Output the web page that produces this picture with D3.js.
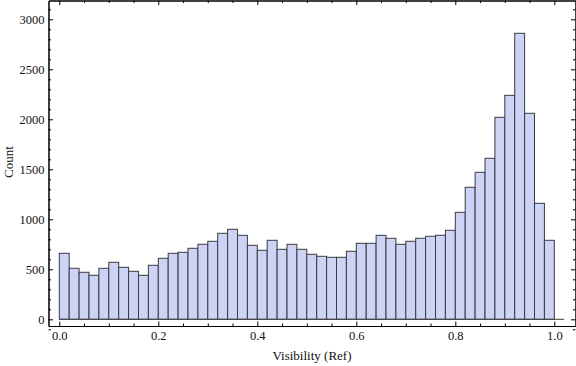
<!DOCTYPE html>
<html><head><meta charset="utf-8">
<script src="https://cdn.jsdelivr.net/npm/d3@7"></script>
<style>
body{margin:0;background:#fff}
text{font-family:"Liberation Serif","DejaVu Serif",serif}
</style>
</head><body><svg id="c" width="576" height="366"></svg>
<script>
// ---- data ----
const binStart = 0.0;
const binWidth = 0.02;
const counts = [660,510,470,440,510,570,520,480,440,540,
                610,660,670,710,750,780,860,900,840,740,
                690,790,700,750,700,650,630,620,620,680,
                760,760,840,810,750,780,810,830,840,890,
                1070,1320,1470,1610,2020,2240,2860,2060,1160,790];
const xTicks = [0.0,0.2,0.4,0.6,0.8,1.0];
const xTickLabels = ["0.0","0.2","0.4","0.6","0.8","1.0"];
const xMinor = [0.05,0.1,0.15,0.25,0.3,0.35,0.45,0.5,0.55,0.65,0.7,0.75,0.85,0.9,0.95];
const yTicks = [0,500,1000,1500,2000,2500,3000];
const yTickLabels = ["0","500","1000","1500","2000","2500","3000"];
const yMinor = [-100,100,200,300,400,600,700,800,900,1100,1200,1300,1400,1600,1700,1800,1900,
                2100,2200,2300,2400,2600,2700,2800,2900,3100];
const xLabel = "Visibility (Ref)";
const yLabel = "Count";

// ---- layout ----
const L=48.5, R=575.5, T=0.5, B=326;
const x = d3.scaleLinear().domain([-0.0218,1.0428]).range([L,R]);
const y = d3.scaleLinear().domain([-67,3188]).range([B,T]);
const svg = d3.select("#c");

const bars = counts.map((c,i)=>({x0:binStart+i*binWidth, x1:binStart+(i+1)*binWidth, c}));
svg.append("g").selectAll("rect").data(bars).join("rect")
  .attr("x",d=>x(d.x0)).attr("width",d=>x(d.x1)-x(d.x0))
  .attr("y",d=>y(d.c)).attr("height",d=>y(0)-y(d.c))
  .attr("fill","#cdd3f5").attr("stroke","#3a3a40").attr("stroke-width",1);

svg.append("line").attr("x1",x(binStart)).attr("x2",x(binStart+(counts.length+1)*binWidth))
  .attr("y1",y(0)).attr("y2",y(0)).attr("stroke","#444").attr("stroke-width",1);

function style(g){
  g.attr("font-family",null);
  g.selectAll("path.domain").attr("stroke","#000");
  g.selectAll(".tick line").attr("stroke","#000");
  g.selectAll("text").attr("font-size","12.5px").attr("fill","#111")
    .style("font-family",'"Liberation Serif","DejaVu Serif",serif');
}
const fmtX = v=>xTickLabels[xTicks.indexOf(v)];
const fmtY = v=>yTickLabels[yTicks.indexOf(v)];

// bottom
svg.append("g").attr("transform",`translate(0,${B})`)
  .call(d3.axisBottom(x).tickValues(xTicks).tickFormat(fmtX).tickSize(-4.5).tickSizeOuter(0).tickPadding(5)).call(style);
svg.append("g").attr("transform",`translate(0,${B})`)
  .call(d3.axisBottom(x).tickValues(xMinor).tickFormat("").tickSize(-2.5).tickSizeOuter(0)).call(style);
// top
svg.append("g").attr("transform",`translate(0,${T})`)
  .call(d3.axisTop(x).tickValues(xTicks).tickFormat("").tickSize(-4.5).tickSizeOuter(0)).call(style);
svg.append("g").attr("transform",`translate(0,${T})`)
  .call(d3.axisTop(x).tickValues(xMinor).tickFormat("").tickSize(-2.5).tickSizeOuter(0)).call(style);
// left
svg.append("g").attr("transform",`translate(${L},0)`)
  .call(d3.axisLeft(y).tickValues(yTicks).tickFormat(fmtY).tickSize(-4.5).tickSizeOuter(0).tickPadding(4)).call(style);
svg.append("g").attr("transform",`translate(${L},0)`)
  .call(d3.axisLeft(y).tickValues(yMinor).tickFormat("").tickSize(-2.5).tickSizeOuter(0)).call(style);
// right
svg.append("g").attr("transform",`translate(${R},0)`)
  .call(d3.axisRight(y).tickValues(yTicks).tickFormat("").tickSize(-4.5).tickSizeOuter(0)).call(style);
svg.append("g").attr("transform",`translate(${R},0)`)
  .call(d3.axisRight(y).tickValues(yMinor).tickFormat("").tickSize(-2.5).tickSizeOuter(0)).call(style);

svg.append("text").attr("x",312).attr("y",360).attr("text-anchor","middle")
  .attr("font-size","13px").attr("fill","#111").text(xLabel);
svg.append("text").attr("transform","translate(12.5,162) rotate(-90)").attr("text-anchor","middle")
  .attr("font-size","13px").attr("fill","#111").text(yLabel);
</script></body></html>
